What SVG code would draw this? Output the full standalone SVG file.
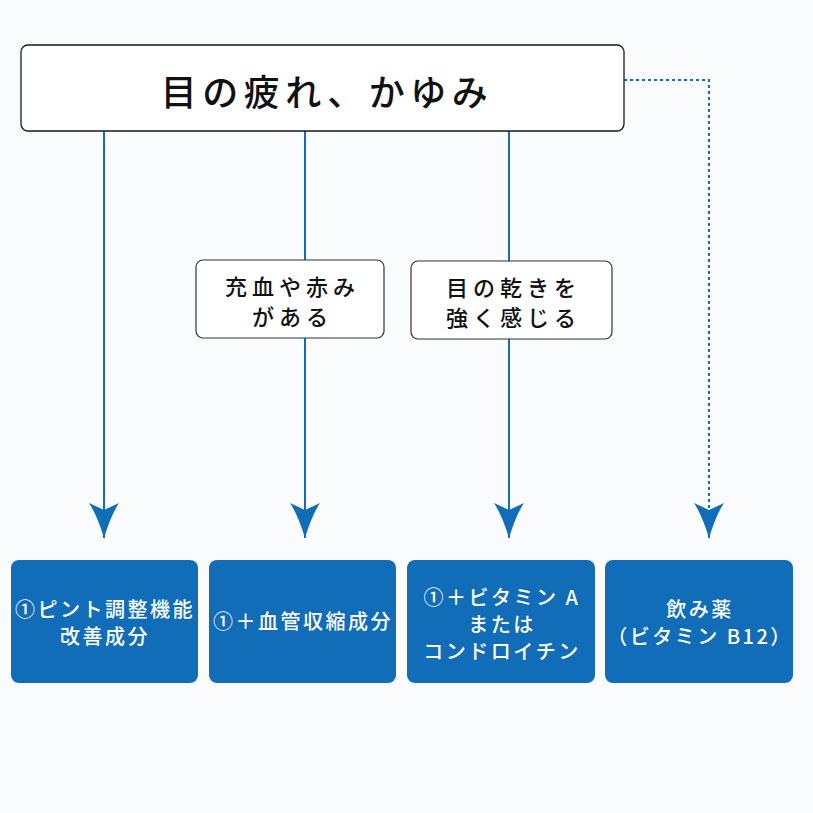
<svg xmlns="http://www.w3.org/2000/svg" width="813" height="813" viewBox="0 0 813 813">
<style>
.bg{fill:#f9fbfd}
.top{fill:#ffffff;stroke:#1a1a1a;stroke-width:1.3}
.lbl{fill:#ffffff;stroke:#333333;stroke-width:1.2}
.res{fill:#116db7}
.t{font-family:"Noto Sans CJK JP","Noto Sans",sans-serif;text-anchor:middle;fill:#111111;font-weight:500}
.l{font-size:22px;letter-spacing:5px}
.w{font-family:"Noto Sans CJK JP","Noto Sans",sans-serif;text-anchor:middle;fill:#ffffff;font-size:20px;letter-spacing:2.5px;font-weight:500}
.c{fill:none;stroke:#116db7;stroke-width:2}
.d{stroke-dasharray:3 3}
</style>
<defs>
<marker id="ah" markerUnits="userSpaceOnUse" markerWidth="40" markerHeight="40" refX="0" refY="0" orient="auto" overflow="visible">
<path d="M0,0 Q-23,-7 -35,-15 L-28,0 L-35,15 Q-23,7 0,0 Z" fill="#116db7"/>
</marker>
</defs>
<rect class="bg" x="0" y="0" width="813" height="813"/>
<g id="connectors">
<path class="c" d="M104,131 V538" marker-end="url(#ah)"/>
<path class="c" d="M305,131 V538" marker-end="url(#ah)"/>
<path class="c" d="M509,131 V538" marker-end="url(#ah)"/>
<path class="c d" d="M624,80 H709 V538" marker-end="url(#ah)"/>
</g>
<g id="top">
<rect class="top" x="21" y="45" width="603" height="86" rx="7"/>
<text class="t" x="327" y="106" font-size="36" letter-spacing="5.5">目の疲れ、かゆみ</text>
</g>
<g id="label1">
<rect class="lbl" x="196" y="260" width="188" height="78" rx="7"/>
<text class="t l" x="292.5" y="295">充血や赤み</text>
<text class="t l" x="292.5" y="325">がある</text>
</g>
<g id="label2">
<rect class="lbl" x="411" y="261" width="201" height="78" rx="7"/>
<text class="t l" x="513.5" y="296">目の乾きを</text>
<text class="t l" x="513.5" y="326">強く感じる</text>
</g>
<g id="res1">
<rect class="res" x="11" y="560" width="187" height="123" rx="8"/>
<text class="w" x="105" y="617">①ピント調整機能</text>
<text class="w" x="105" y="644">改善成分</text>
</g>
<g id="res2">
<rect class="res" x="209" y="560" width="187" height="123" rx="8"/>
<text class="w" x="303" y="629">①＋血管収縮成分</text>
</g>
<g id="res3">
<rect class="res" x="407" y="560" width="188" height="123" rx="8"/>
<text class="w" x="502" y="605">①＋ビタミン A</text>
<text class="w" x="502" y="632">または</text>
<text class="w" x="502" y="659">コンドロイチン</text>
</g>
<g id="res4">
<rect class="res" x="605" y="560" width="188" height="123" rx="8"/>
<text class="w" x="700" y="617">飲み薬</text>
<text class="w" x="700" y="644">（ビタミン B12）</text>
</g>
</svg>
